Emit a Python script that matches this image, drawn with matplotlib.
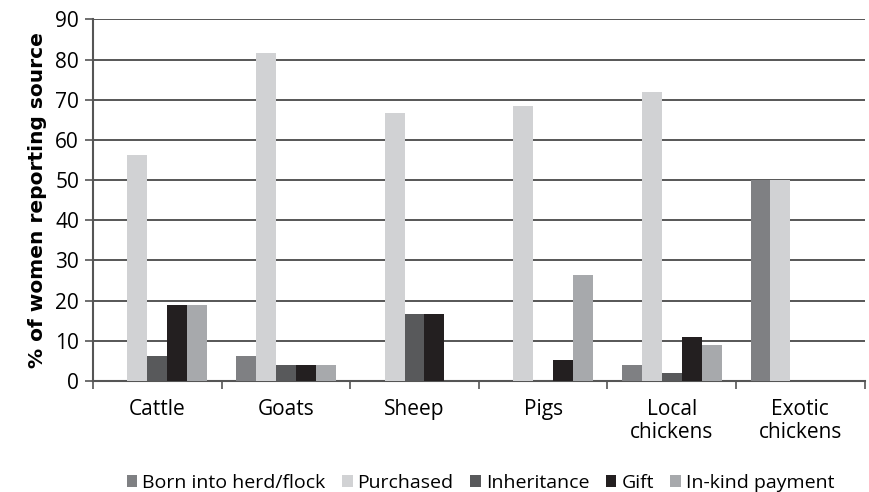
import numpy as np
import matplotlib.pyplot as plt

categories = ['Cattle', 'Goats', 'Sheep', 'Pigs', 'Local\nchickens', 'Exotic\nchickens']
series_names = ['Born into herd/flock', 'Purchased', 'Inheritance', 'Gift', 'In-kind payment']
born = [0, 6.1, 0, 0, 4.0, 50.0]
purchased = [56.3, 81.6, 66.7, 68.4, 72.0, 50.0]
inheritance = [6.3, 4.1, 16.7, 0, 2.0, 0]
gift = [18.8, 4.1, 16.7, 5.3, 11.0, 0]
inkind = [18.8, 4.1, 0, 26.3, 9.0, 0]
colors = ['#7f8083', '#d1d2d4', '#58595b', '#231f20', '#a7a9ac']

plt.rcParams['font.family'] = ['Open Sans', 'DejaVu Sans']

fig = plt.figure(figsize=(8.69, 4.92), dpi=100)
ax = fig.add_axes([0.107, 0.2256, 0.888, 0.735])

x = np.arange(len(categories))
w = 0.155
data = [born, purchased, inheritance, gift, inkind]
for i, (vals, name, c) in enumerate(zip(data, series_names, colors)):
    ax.bar(x + (i - 2) * w, vals, w, color=c, label=name, zorder=3)

ax.set_ylim(0, 90)
ax.set_xlim(-0.5, len(categories) - 0.5)
ax.set_yticks(range(0, 91, 10))
ax.yaxis.grid(True, color='#3a3a3a', linewidth=1.2, zorder=0)
ax.tick_params(axis='y', labelsize=15, length=6, width=1.2, color='#555555', pad=4)

ax.set_xticks(x)
ax.set_xticklabels(categories, fontsize=15, linespacing=1.15)
ax.set_xticks(np.arange(-0.5, len(categories), 1), minor=True)
ax.tick_params(axis='x', which='major', length=0, pad=13)
ax.tick_params(axis='x', which='minor', length=6, width=1.2, color='#555555')

for s in ['top', 'right']:
    ax.spines[s].set_visible(False)
ax.spines['left'].set_color('#555555')
ax.spines['left'].set_linewidth(1.5)
ax.spines['bottom'].set_color('#555555')
ax.spines['bottom'].set_linewidth(1.5)

ax.set_ylabel('% of women reporting source', fontsize=14.5, fontweight='bold',
              family='DejaVu Sans', labelpad=6)

fig.legend(loc='lower center', bbox_to_anchor=(0.553, -0.035), ncol=5, frameon=False,
           fontsize=14, handlelength=0.55, handleheight=0.55, handletextpad=0.25,
           columnspacing=0.85)

fig.savefig('out.png', dpi=100)
